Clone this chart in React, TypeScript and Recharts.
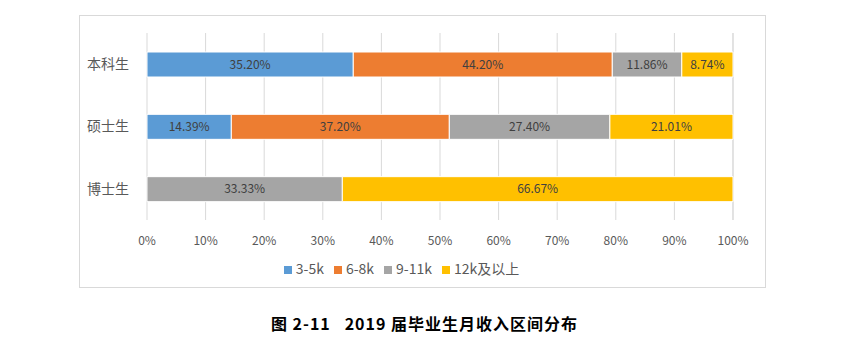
import { BarChart, Bar, XAxis, YAxis, CartesianGrid, Legend, LabelList } from 'recharts';

const groups = ['本科生', '硕士生', '博士生'];
const band3to5 = [35.2, 14.39, 0];
const band6to8 = [44.2, 37.2, 0];
const band9to11 = [11.86, 27.4, 33.33];
const band12up = [8.74, 21.01, 66.67];
const xTicks = [0, 10, 20, 30, 40, 50, 60, 70, 80, 90, 100];

const series = [
  { key: 'a', name: '3-5k', color: '#5B9BD5' },
  { key: 'b', name: '6-8k', color: '#ED7D31' },
  { key: 'c', name: '9-11k', color: '#A5A5A5' },
  { key: 'd', name: '12k及以上', color: '#FFC000' },
];

const data = groups.map((g, i) => ({
  name: g,
  a: band3to5[i],
  b: band6to8[i],
  c: band9to11[i],
  d: band12up[i],
}));

const font = '"Noto Sans CJK SC", "Noto Sans", sans-serif';

const fmt = (v: any) => (v ? `${Number(v).toFixed(2)}%` : '');

export default function App() {
  return (
    <div style={{ position: 'absolute', left: 0, top: 0, width: 849, height: 340, background: '#fff' }}>
      <div
        style={{
          position: 'absolute',
          left: 79,
          top: 15,
          width: 685,
          height: 271,
          border: '1px solid #D9D9D9',
        }}
      >
        <BarChart
          width={685}
          height={271}
          data={data}
          layout="vertical"
          barSize={25}
          margin={{ top: 17, right: 32, left: 0, bottom: 5 }}
          style={{ fontFamily: font }}
        >
          <CartesianGrid horizontal={false} stroke="#D9D9D9" />
          <XAxis
            type="number"
            domain={[0, 100]}
            ticks={xTicks}
            tickFormatter={(v) => `${v}%`}
            axisLine={false}
            tickLine={false}
            tickMargin={10}
            height={38}
            interval={0}
            tick={{ fill: '#595959', fontSize: 12, fontFamily: font }}
          />
          <YAxis
            type="category"
            dataKey="name"
            width={67}
            axisLine={false}
            tickLine={false}
            tickMargin={12}
            tick={{ fill: '#595959', fontSize: 14, fontFamily: font }}
          />
          <Legend
            verticalAlign="bottom"
            align="center"
            iconType="square"
            iconSize={8}
            height={24}
            itemSorter={(item: any) => series.findIndex((s) => s.name === item.value)}
            wrapperStyle={{ fontSize: 14, color: '#595959', fontFamily: font }}
            formatter={(value) => <span style={{ color: '#595959' }}>{value}</span>}
          />
          {series.map((s) => (
            <Bar
              key={s.key}
              dataKey={s.key}
              name={s.name}
              stackId="all"
              fill={s.color}
              stroke="#fff"
              strokeWidth={1}
              isAnimationActive={false}
            >
              <LabelList
                dataKey={s.key}
                position="center"
                formatter={fmt}
                style={{ fill: '#404040', fontSize: 12, fontFamily: font }}
              />
            </Bar>
          ))}
        </BarChart>
      </div>
      <div
        style={{
          position: 'absolute',
          left: 0,
          width: 849,
          top: 311,
          textAlign: 'center',
          fontFamily: '"Noto Sans CJK SC", serif',
          fontWeight: 'bold',
          fontSize: 16,
          letterSpacing: 1,
          color: '#000',
          whiteSpace: 'pre',
        }}
      >
        {'图 2-11   2019 届毕业生月收入区间分布'}
      </div>
    </div>
  );
}
